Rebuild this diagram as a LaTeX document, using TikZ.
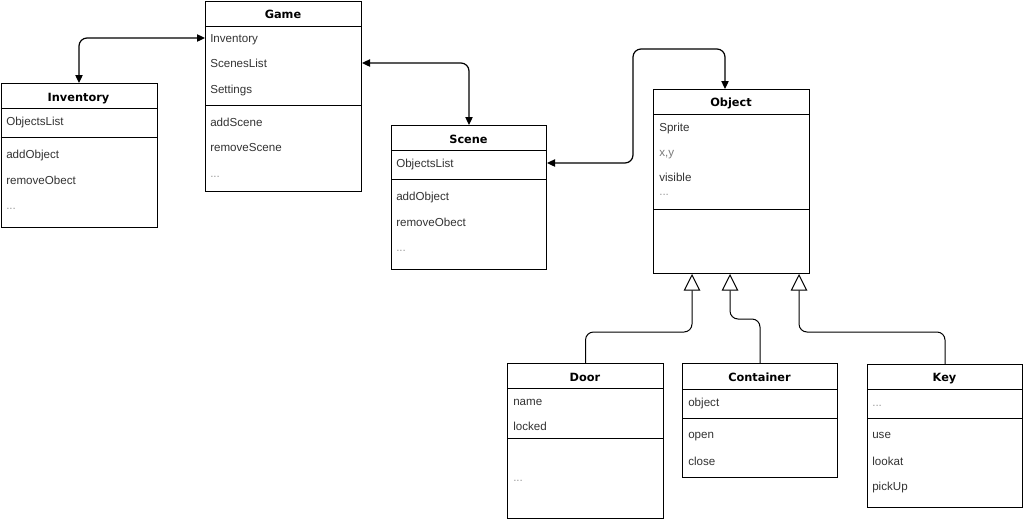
\documentclass[tikz,border=0pt]{standalone}
\usepackage{fontspec}
\setmainfont{Liberation Sans}
\newfontfamily\titlefont{DejaVu Sans}
\usetikzlibrary{arrows.meta}
\definecolor{txt}{HTML}{333333}
\definecolor{dots}{HTML}{9A9A9A}
\definecolor{faint}{HTML}{7A7A7A}
\begin{document}
\begin{tikzpicture}[x=0.75pt,y=-0.75pt,
 classbox/.style={draw, line width=0.75pt, anchor=north west, inner sep=0pt, fill=white},
 ctitle/.style={font=\titlefont\bfseries\fontsize{8.5pt}{10pt}\selectfont, text=black, inner sep=0pt, anchor=base},
 attr/.style={font=\fontsize{8.7pt}{10pt}\selectfont, text=txt, anchor=base west, inner sep=0pt},
 more/.style={attr, text=dots},
 sepline/.style={line width=0.75pt},
 assoc/.style={line width=0.9pt, rounded corners=6pt, {Triangle[length=6pt,width=5.5pt]}-{Triangle[length=6pt,width=5.5pt]}},
 inherit/.style={line width=0.75pt, rounded corners=6pt, -{Triangle[open,length=12.5pt,width=12.5pt,fill=white]}},
]
\useasboundingbox (0,0) rectangle (1024,522);

% ---------- Game ----------
\node[classbox, minimum width=156*0.75pt, minimum height=190*0.75pt] (game) at (205,1) {};
\node[ctitle] (gameT) at (283,18) {Game};
\draw[sepline] (game.west |- 0,26) -- (game.east |- 0,26);
\node[attr] (g1) at (210,42) {Inventory};
\node[attr] (g2) at (210,67) {ScenesList};
\node[attr] (g3) at (210,93) {Settings};
\draw[sepline] (game.west |- 0,105) -- (game.east |- 0,105);
\node[attr] (g4) at (210,126) {addScene};
\node[attr] (g5) at (210,151) {removeScene};
\node[more] (g6) at (210,177) {...};

% ---------- Inventory ----------
\node[classbox, minimum width=156*0.75pt, minimum height=144*0.75pt] (inv) at (0.5,83) {};
\node[ctitle] (invT) at (78.5,101) {Inventory};
\draw[sepline] (inv.west |- 0,108) -- (inv.east |- 0,108);
\node[attr] (i1) at (6,125) {ObjectsList};
\draw[sepline] (inv.west |- 0,137) -- (inv.east |- 0,137);
\node[attr] (i2) at (6,158) {addObject};
\node[attr] (i3) at (6,184) {removeObect};
\node[more] (i4) at (6,209) {...};

% ---------- Scene ----------
\node[classbox, minimum width=155*0.75pt, minimum height=144*0.75pt] (scene) at (391,125) {};
\node[ctitle] (sceneT) at (468.5,143) {Scene};
\draw[sepline] (scene.west |- 0,150) -- (scene.east |- 0,150);
\node[attr] (s1) at (396,167) {ObjectsList};
\draw[sepline] (scene.west |- 0,179) -- (scene.east |- 0,179);
\node[attr] (s2) at (396,200) {addObject};
\node[attr] (s3) at (396,226) {removeObect};
\node[more] (s4) at (396,251) {...};

% ---------- Object ----------
\node[classbox, minimum width=156*0.75pt, minimum height=184*0.75pt] (obj) at (653,89) {};
\node[ctitle] (objT) at (731,106) {Object};
\draw[sepline] (obj.west |- 0,114) -- (obj.east |- 0,114);
\node[attr] (o1) at (659,131) {Sprite};
\node[attr, text=faint] (o2) at (659,156) {x,y};
\node[attr] (o3) at (659,181) {visible};
\node[more] (o4) at (659,195) {...};
\draw[sepline] (obj.west |- 0,209) -- (obj.east |- 0,209);

% ---------- Door ----------
\node[classbox, minimum width=156*0.75pt, minimum height=155*0.75pt] (door) at (507,363) {};
\node[ctitle] (doorT) at (585,381) {Door};
\draw[sepline] (door.west |- 0,388) -- (door.east |- 0,388);
\node[attr] (d1) at (513,405) {name};
\node[attr] (d2) at (513,430) {locked};
\draw[sepline] (door.west |- 0,438) -- (door.east |- 0,438);
\node[more] (d3) at (513,481) {...};

% ---------- Container ----------
\node[classbox, minimum width=155*0.75pt, minimum height=114*0.75pt] (cont) at (682,363) {};
\node[ctitle] (contT) at (759.5,381) {Container};
\draw[sepline] (cont.west |- 0,389) -- (cont.east |- 0,389);
\node[attr] (c1) at (688,406) {object};
\draw[sepline] (cont.west |- 0,418) -- (cont.east |- 0,418);
\node[attr] (c2) at (688,438) {open};
\node[attr] (c3) at (688,465) {close};

% ---------- Key ----------
\node[classbox, minimum width=155*0.75pt, minimum height=143*0.75pt] (key) at (867,364) {};
\node[ctitle] (keyT) at (944.5,381) {Key};
\draw[sepline] (key.west |- 0,389) -- (key.east |- 0,389);
\node[more] (k1) at (872,406) {...};
\draw[sepline] (key.west |- 0,418) -- (key.east |- 0,418);
\node[attr] (k2) at (872,438) {use};
\node[attr] (k3) at (872,465) {lookat};
\node[attr] (k4) at (872,490) {pickUp};

% ---------- associations ----------
\draw[assoc] (game.west |- 0,38) -| (inv.north);
\draw[assoc] (game.east |- 0,63) -| (scene.north);
\coordinate (bend) at (633,49);
\draw[assoc] (scene.east |- 0,163) -| (bend) -| (725,0 |- obj.north);

% ---------- inheritance ----------
\draw[inherit] (door.north) |- (692,332) -- (692,0 |- obj.south);
\draw[inherit] (cont.north) |- (730,319) -- (730,0 |- obj.south);
\draw[inherit] (key.north) |- (799,332) -- (799,0 |- obj.south);
\end{tikzpicture}
\end{document}
